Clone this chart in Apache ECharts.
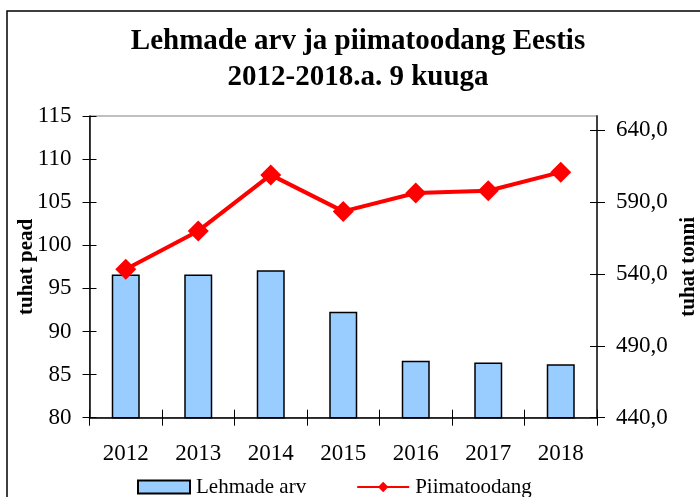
<!DOCTYPE html>
<html>
<head>
<meta charset="utf-8">
<script src="https://cdn.jsdelivr.net/npm/echarts@6/dist/echarts.min.js"></script>
<style>
html,body{margin:0;padding:0;background:#fff;}
#c{width:700px;height:497px;}
</style>
</head>
<body>
<div id="c"></div>
<script>
var titleLines = ['Lehmade arv ja piimatoodang Eestis', '2012-2018.a. 9 kuuga'];
var years = ['2012', '2013', '2014', '2015', '2016', '2017', '2018'];
var cows = [96.6, 96.6, 97.1, 92.3, 86.6, 86.4, 86.2];
var milk = [543.3, 570.0, 609.0, 583.6, 596.4, 598.0, 610.9];
var leftTicks = [80, 85, 90, 95, 100, 105, 110, 115];
var rightTicks = [440, 490, 540, 590, 640];
var seriesNames = ['Lehmade arv', 'Piimatoodang'];
var axisNames = ['tuhat pead', 'tuhat tonni'];

var FONT = '"Liberation Serif", "Times New Roman", serif';
var chart = echarts.init(document.getElementById('c'), null, {renderer: 'canvas'});

var gridL = 89.5, gridR = 103, gridT = 116, gridB = 79.3;

var option = {
  animation: false,
  backgroundColor: '#ffffff',
  textStyle: {fontFamily: FONT, color: '#000'},
  graphic: [
    {type: 'rect', shape: {x: 7, y: 11, width: 800, height: 600}, style: {fill: 'none', stroke: '#000', lineWidth: 1.5}, z: 0},
    {type: 'text', x: 358, y: 42, style: {text: titleLines[0], font: 'bold 29px ' + FONT, fill: '#000', textAlign: 'center', textVerticalAlign: 'middle'}},
    {type: 'text', x: 358, y: 78, style: {text: titleLines[1], font: 'bold 29px ' + FONT, fill: '#000', textAlign: 'center', textVerticalAlign: 'middle'}}
  ],
  grid: {left: gridL, right: gridR, top: gridT, bottom: gridB, containLabel: false, outerBoundsMode: 'none',
    show: true, borderColor: '#808080', borderWidth: 1, backgroundColor: 'transparent'},
  legend: {
    left: 137, top: 476, padding: 0, itemGap: 50, itemWidth: 52, itemHeight: 13,
    textStyle: {fontFamily: FONT, fontSize: 21, color: '#000', lineHeight: 22, padding: [0, 0, 0, 1]},
    data: [
      {name: seriesNames[0], icon: 'rect'},
      {name: seriesNames[1]}
    ]
  },
  xAxis: [
    {
      type: 'category', data: years, boundaryGap: true, position: 'bottom',
      axisLine: {show: true, lineStyle: {color: '#000', width: 1.5}},
      axisTick: {show: true, inside: false, length: 8, lineStyle: {color: '#000', width: 1}},
      axisLabel: {fontFamily: FONT, fontSize: 23, color: '#000', margin: 25},
      splitLine: {show: false}
    },
    {
      type: 'category', data: years, boundaryGap: true, position: 'bottom',
      axisLine: {show: false},
      axisTick: {show: true, inside: true, length: 8, lineStyle: {color: '#000', width: 1}},
      axisLabel: {show: false},
      splitLine: {show: false}
    }
  ],
  yAxis: [
    {
      type: 'value', min: 80, max: 115, interval: 5, position: 'left',
      name: axisNames[0], nameLocation: 'middle', nameGap: 52, nameRotate: 90, nameMoveOverlap: false,
      nameTextStyle: {fontFamily: FONT, fontSize: 21, fontWeight: 'bold', color: '#000'},
      axisLine: {show: true, lineStyle: {color: '#000', width: 1.5}},
      axisTick: {show: true, length: 7, lineStyle: {color: '#000', width: 1}, customValues: leftTicks},
      axisLabel: {fontFamily: FONT, fontSize: 23, color: '#000', margin: 18, customValues: leftTicks},
      splitLine: {show: false}
    },
    {
      type: 'value', min: 440, max: 650, interval: 50, position: 'right',
      name: axisNames[1], nameLocation: 'middle', nameGap: 81, nameRotate: 90, nameMoveOverlap: false,
      nameTextStyle: {fontFamily: FONT, fontSize: 21, fontWeight: 'bold', color: '#000'},
      axisLine: {show: true, lineStyle: {color: '#404040', width: 2}},
      axisTick: {show: true, length: 8, lineStyle: {color: '#000', width: 1}, customValues: rightTicks},
      axisLabel: {fontFamily: FONT, fontSize: 23, color: '#000', margin: 19, customValues: rightTicks,
        formatter: function (v) { return v.toFixed(1).replace('.', ','); }},
      splitLine: {show: false}
    },
    {
      type: 'value', min: 80, max: 115, interval: 5, position: 'left',
      axisLine: {show: false},
      axisTick: {show: true, inside: true, length: 7, lineStyle: {color: '#000', width: 1}, customValues: leftTicks},
      axisLabel: {show: false},
      splitLine: {show: false}
    },
    {
      type: 'value', min: 440, max: 650, interval: 50, position: 'right',
      axisLine: {show: false},
      axisTick: {show: true, inside: true, length: 7, lineStyle: {color: '#000', width: 1}, customValues: rightTicks},
      axisLabel: {show: false},
      splitLine: {show: false}
    }
  ],
  series: [
    {
      name: seriesNames[0], type: 'bar', data: cows, xAxisIndex: 0, yAxisIndex: 0,
      barWidth: 28,
      itemStyle: {color: '#99CCFF', borderColor: '#000', borderWidth: 1.5},
      z: 2
    },
    {
      name: seriesNames[1], type: 'line', data: milk, xAxisIndex: 0, yAxisIndex: 1,
      symbol: 'diamond', symbolSize: 21, showAllSymbol: true,
      lineStyle: {color: '#FF0000', width: 4},
      itemStyle: {color: '#FF0000'},
      z: 5
    }
  ]
};
chart.setOption(option);
</script>
</body>
</html>
